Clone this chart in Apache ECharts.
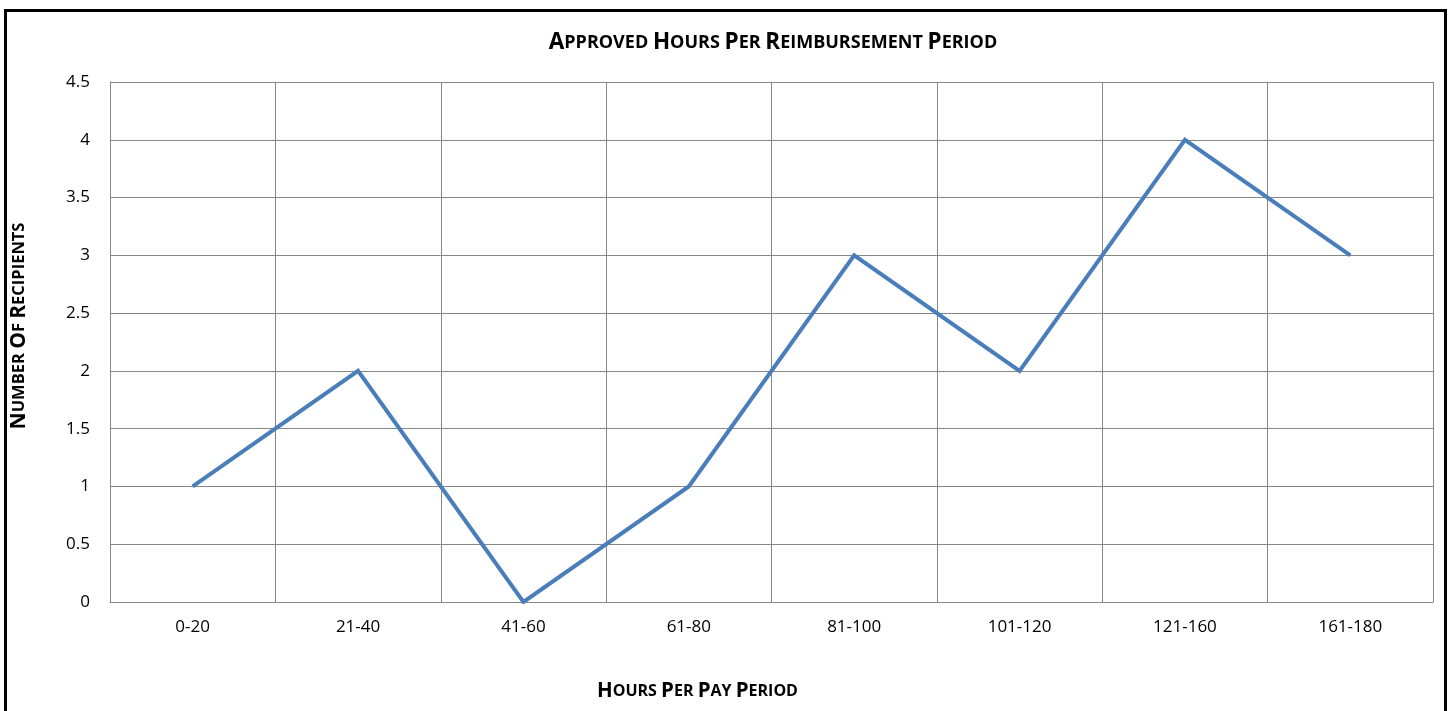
<!DOCTYPE html>
<html>
<head>
<meta charset="utf-8">
<script src="https://cdn.jsdelivr.net/npm/echarts@6/dist/echarts.min.js"></script>
<style>
  html, body { margin: 0; padding: 0; background: #fff; overflow: hidden; }
  #main { position: absolute; left: 0; top: 0; width: 1452px; height: 711px; }
  #frame { position: absolute; left: 4px; top: 9px; width: 1437px; height: 720px; border: 3px solid #000; pointer-events: none; }
</style>
</head>
<body>
<div id="main"></div>
<div id="frame"></div>
<script>
  // 数据
  var categories = ['0-20', '21-40', '41-60', '61-80', '81-100', '101-120', '121-160', '161-180']
  var recipients = [1, 2, 0, 1, 3, 2, 4, 3]
  var yTicks = [0, 0.5, 1, 1.5, 2, 2.5, 3, 3.5, 4, 4.5]

  var FONT = '"Open Sans", "Noto Sans", sans-serif'

  // small caps via rich text: first letter of each word big, rest small
  function smallCaps(str) {
    return str.split(' ').map(function (w) {
      return '{b|' + w.charAt(0).toUpperCase() + '}' + (w.length > 1 ? '{s|' + w.slice(1).toUpperCase() + '}' : '')
    }).join('{s| }')
  }
  function capsRich(big, small) {
    return {
      b: { fontSize: big, fontWeight: 'bold', fontFamily: FONT, color: '#000' },
      s: { fontSize: small, fontWeight: 'bold', fontFamily: FONT, color: '#000' }
    }
  }

  const myChart = echarts.init(document.getElementById('main'))
  myChart.setOption({
    animation: false,
    title: {
      text: smallCaps('Approved Hours Per Reimbursement Period'),
      left: 768,
      textAlign: 'center',
      top: 26,
      textStyle: { rich: capsRich(22.5, 18) }
    },
    grid: { left: 110, right: 19, top: 82, bottom: 109 },
    xAxis: {
      type: 'category',
      data: categories,
      boundaryGap: true,
      name: smallCaps('Hours Per Pay Period'),
      nameLocation: 'middle',
      nameGap: 79,
      // 轴标题偏左
      nameTextStyle: { rich: capsRich(20.5, 16), padding: [0, 148, 0, 0] },
      axisLine: { lineStyle: { color: '#868686', width: 1 } },
      axisTick: { show: false },
      axisLabel: { margin: 17, fontSize: 17, fontFamily: FONT, color: '#000' },
      splitLine: { show: true, lineStyle: { color: '#868686', width: 1 } }
    },
    yAxis: {
      type: 'value',
      min: yTicks[0],
      max: yTicks[yTicks.length - 1],
      interval: 0.5,
      name: smallCaps('Number Of Recipients'),
      nameLocation: 'middle',
      nameRotate: 90,
      nameGap: 80,
      nameTextStyle: { rich: capsRich(21, 16.5), padding: [0, 0, 0, 32] },
      axisLine: { show: true, lineStyle: { color: '#868686', width: 1 } },
      axisTick: { show: false },
      axisLabel: { margin: 20, fontSize: 17, fontFamily: FONT, color: '#000' },
      splitLine: { show: true, lineStyle: { color: '#868686', width: 1 } }
    },
    series: [
      {
        name: 'Number Of Recipients',
        type: 'line',
        data: recipients,
        symbol: 'none',
        lineStyle: { color: '#4a7ebb', width: 4, join: 'miter' },
        itemStyle: { color: '#4a7ebb' }
      }
    ]
  })
</script>
</body>
</html>
